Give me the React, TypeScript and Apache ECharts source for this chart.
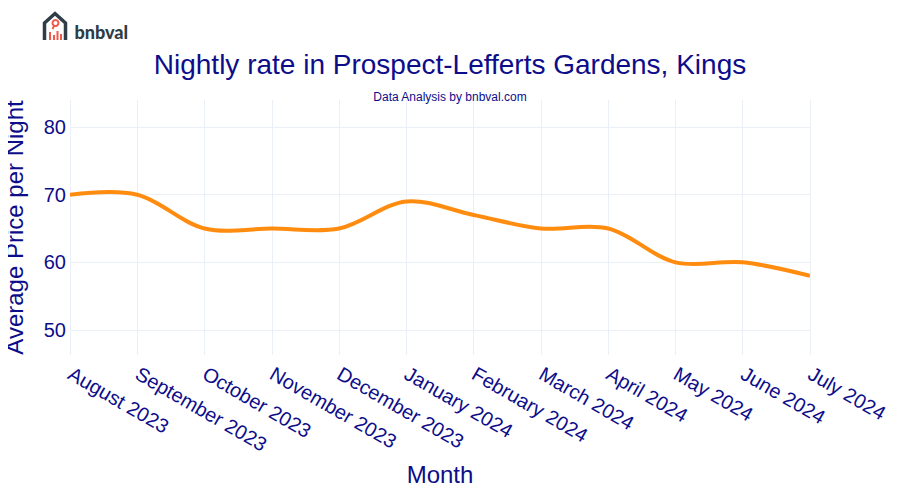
import React, { useEffect, useRef } from "react";
import * as echarts from "echarts";

const months = [
  "August 2023", "September 2023", "October 2023", "November 2023", "December 2023",
  "January 2024", "February 2024", "March 2024", "April 2024", "May 2024", "June 2024", "July 2024",
];
const prices = [70, 70, 65, 65, 65, 69, 67, 65, 65, 60, 60, 58];
const yTicks = [50, 60, 70, 80];

const TXT = "#0d0d8a";
const FONT = "Liberation Sans, Arial, sans-serif";

function tangent(p: number[], t: number[], n: number[], s: number) {
  const d1x = p[0] - t[0], d1y = p[1] - t[1];
  const d2x = n[0] - t[0], d2y = n[1] - t[1];
  const d1a = Math.pow(d1x * d1x + d1y * d1y, 0.25);
  const d2a = Math.pow(d2x * d2x + d2y * d2y, 0.25);
  const numx = (d2a * d2a * d1x - d1a * d1a * d2x) * s;
  const numy = (d2a * d2a * d1y - d1a * d1a * d2y) * s;
  const den1 = 3 * d2a * (d1a + d2a);
  const den2 = 3 * d1a * (d1a + d2a);
  return [
    [t[0] + (den1 ? numx / den1 : 0), t[1] + (den1 ? numy / den1 : 0)],
    [t[0] - (den2 ? numx / den2 : 0), t[1] - (den2 ? numy / den2 : 0)],
  ];
}

function splinePath(pts: number[][]) {
  const f = (q: number[]) => q[0].toFixed(2) + " " + q[1].toFixed(2);
  let d = "M" + f(pts[0]);
  const tg: number[][][] = [];
  for (let i = 1; i < pts.length - 1; i++) tg.push(tangent(pts[i - 1], pts[i], pts[i + 1], 1));
  d += "Q" + f(tg[0][0]) + " " + f(pts[1]);
  for (let i = 2; i < pts.length - 1; i++) {
    d += "C" + f(tg[i - 2][1]) + " " + f(tg[i - 1][0]) + " " + f(pts[i]);
  }
  d += "Q" + f(tg[pts.length - 3][1]) + " " + f(pts[pts.length - 1]);
  return d;
}

export default function App() {
  const ref = useRef<HTMLDivElement>(null);
  useEffect(() => {
    if (!ref.current) return;
    const chart = echarts.init(ref.current, undefined, { renderer: "svg" });
    chart.setOption({
      animation: false,
      backgroundColor: "#ffffff",
      textStyle: { fontFamily: FONT },
      title: [
        {
          text: "Nightly rate in Prospect-Lefferts Gardens, Kings",
          left: "center",
          top: 45,
          textStyle: { color: TXT, fontSize: 28, fontWeight: "normal", fontFamily: FONT },
        },
        {
          text: "Data Analysis by bnbval.com",
          left: "center",
          top: 86,
          textStyle: { color: TXT, fontSize: 12, fontWeight: "normal", fontFamily: FONT },
        },
      ],
      grid: { left: 70, right: 90, top: 100, bottom: 145, containLabel: false, outerBoundsMode: "none" },
      xAxis: {
        type: "category",
        data: months,
        boundaryGap: false,
        name: "Month",
        nameLocation: "middle",
        nameGap: 107,
        nameTextStyle: { color: TXT, fontSize: 24, fontFamily: FONT },
        axisLine: { show: false },
        axisTick: { show: false },
        axisLabel: { color: TXT, fontSize: 20, rotate: -30, margin: 17, fontFamily: FONT, interval: 0 },
        splitLine: { show: true, lineStyle: { color: "#ebf0f8", width: 1 } },
      },
      yAxis: {
        type: "value",
        min: 46.3,
        max: 84,
        name: "Average Price per Night",
        nameLocation: "middle",
        nameGap: 44,
        nameTextStyle: { color: TXT, fontSize: 24, fontFamily: FONT },
        axisLine: { show: false },
        axisTick: { show: false, customValues: yTicks },
        axisLabel: { color: TXT, fontSize: 20, margin: 4, customValues: yTicks, fontFamily: FONT },
        splitLine: { show: true, lineStyle: { color: "#ebf0f8", width: 1 } },
      },
      series: [
        {
          type: "custom",
          data: prices.map((v, i) => [i, v]),
          encode: { x: 0, y: 1 },
          clip: true,
          renderItem: (params: any, api: any) => {
            if (params.dataIndex !== 0) return null;
            const pts = prices.map((v, i) => api.coord([i, v]));
            return {
              type: "path",
              shape: { pathData: splinePath(pts) },
              style: { stroke: "#ff8c0f", lineWidth: 4, fill: "none", lineJoin: "round" },
            };
          },
        },
      ],
      graphic: [
        {
          type: "group",
          left: 42,
          top: 11,
          children: [
            {
              type: "polyline",
              shape: { points: [[2, 28], [2, 11], [12.5, 1.5], [23, 11], [23, 28]] },
              style: { stroke: "#2e3d46", lineWidth: 3.5, fill: "none", lineJoin: "miter" },
            },
            { type: "circle", shape: { cx: 13, cy: 11, r: 3 }, style: { stroke: "#f05a4a", lineWidth: 2, fill: "none" } },
            { type: "line", shape: { x1: 11.5, y1: 14, x2: 10, y2: 17 }, style: { stroke: "#f05a4a", lineWidth: 2 } },
            { type: "rect", shape: { x: 6.5, y: 20, width: 2, height: 8 }, style: { fill: "#f05a4a" } },
            { type: "rect", shape: { x: 10.5, y: 23, width: 2, height: 5 }, style: { fill: "#f05a4a" } },
            { type: "rect", shape: { x: 14, y: 19, width: 2, height: 9 }, style: { fill: "#f05a4a" } },
            { type: "rect", shape: { x: 17.5, y: 22, width: 2, height: 6 }, style: { fill: "#f05a4a" } },
            {
              type: "text",
              x: 32,
              y: 11,
              style: { text: "bnbval", fill: "#2e3d46", fontSize: 18, fontWeight: 900, fontFamily: "Lato, sans-serif" },
            },
          ],
        },
      ],
    });
    return () => chart.dispose();
  }, []);
  return <div ref={ref} style={{ width: 900, height: 500, margin: -8 }} />;
}
